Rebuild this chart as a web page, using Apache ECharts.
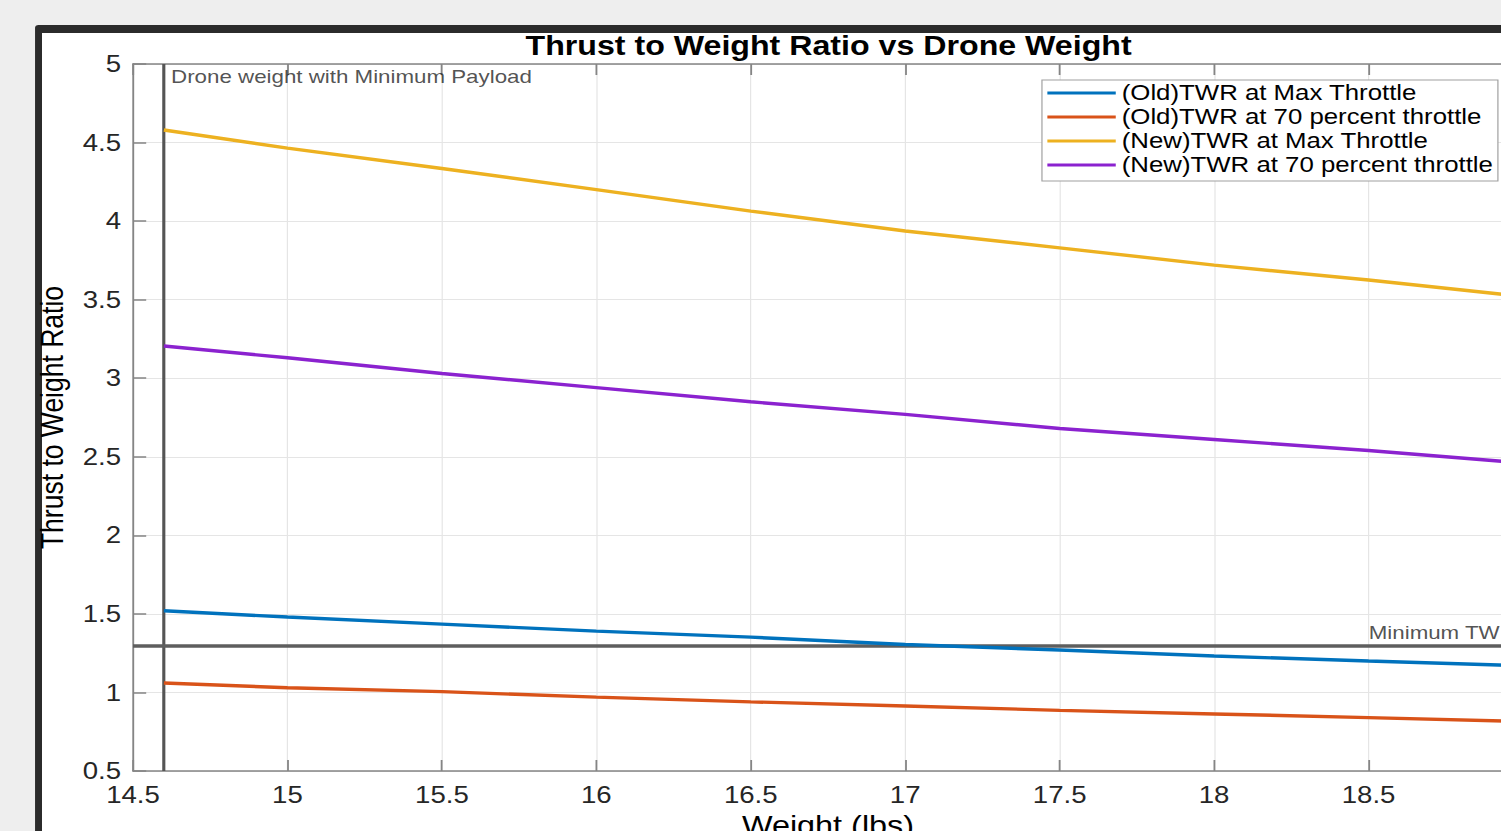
<!DOCTYPE html>
<html>
<head>
<meta charset="utf-8">
<script src="https://cdn.jsdelivr.net/npm/echarts@6/dist/echarts.min.js"></script>
<style>
  html, body { margin: 0; padding: 0; overflow: hidden; background: #eeeeee; width: 1501px; height: 831px; }
  #c { position: absolute; left: 0; top: 0; width: 1300px; height: 900px; transform: scaleX(1.2); transform-origin: 0 0; }
</style>
</head>
<body>
<div id="c"></div>
<script>
// ---- data ----
const weights = [14.6, 15, 15.5, 16, 16.5, 17, 17.5, 18, 18.5, 19];
const oldMax   = [1.52, 1.48, 1.435, 1.39, 1.352, 1.305, 1.27, 1.232, 1.20, 1.17];
const old70    = [1.06, 1.03, 1.005, 0.97, 0.94, 0.914, 0.886, 0.863, 0.84, 0.815];
const newMax   = [4.58, 4.465, 4.335, 4.20, 4.064, 3.937, 3.83, 3.72, 3.625, 3.52];
const new70    = [3.205, 3.13, 3.03, 2.94, 2.85, 2.77, 2.68, 2.61, 2.54, 2.46];
const seriesNames = ['(Old)TWR at Max Throttle', '(Old)TWR at 70 percent throttle', '(New)TWR at Max Throttle', '(New)TWR at 70 percent throttle'];
const seriesColors = ['#0072BD', '#D95319', '#EDB120', '#8B22CF'];
const refWeight = 14.6;   // minimum payload drone weight
const refTWR = 1.3;       // minimum TWR
const refWeightLabel = 'Drone weight with Minimum Payload';
const refTWRLabel = 'Minimum TWR';
const xMin = 14.5, xMax = 19, xStep = 0.5;
const yMin = 0.5, yMax = 5, yStep = 0.5;

const FONT = "'Liberation Sans', Arial, Helvetica, sans-serif";
const chart = echarts.init(document.getElementById('c'), null, { renderer: 'svg' });

function pairs(vals) { return weights.map((w, i) => [w, vals[i]]); }
const allVals = [oldMax, old70, newMax, new70];

const series = allVals.map((vals, i) => ({
  name: seriesNames[i],
  type: 'line',
  data: pairs(vals),
  showSymbol: false,
  symbol: 'none',
  lineStyle: { width: 3.4, color: seriesColors[i] },
  itemStyle: { color: seriesColors[i] },
  z: 3
}));

series[0].markLine = {
  silent: true,
  symbol: 'none',
  label: { show: false },
  data: [
    { xAxis: refWeight, lineStyle: { color: '#555555', width: 2.6, type: 'solid' } },
    { yAxis: refTWR, lineStyle: { color: '#5e5e5e', width: 3.5, type: 'solid' } }
  ],
  z: 2
};

series.push({
  type: 'scatter',
  name: 'labels',
  symbolSize: 0,
  silent: true,
  data: [
    { value: [refWeight, yMax], label: { show: true, formatter: refWeightLabel, position: [6, 3], align: 'left', verticalAlign: 'top' } },
    { value: [xMax, refTWR], label: { show: true, formatter: refTWRLabel, position: [-6, -4], align: 'right', verticalAlign: 'bottom' } }
  ],
  label: { fontFamily: FONT, fontSize: 18.6, color: '#262626' },
  z: 5
});

const axisLineStyle = { color: '#858585', width: 1.5 };

const option = {
  backgroundColor: '#eeeeee',
  animation: false,
  graphic: [
    { type: 'rect', left: 29.2, top: 25, shape: { width: 2000, height: 2000, r: 3 }, style: { fill: '#2b2b2b' }, z: -10 },
    { type: 'rect', left: 35, top: 33, shape: { width: 2000, height: 2000 }, style: { fill: '#ffffff' }, z: -9 }
  ],
  title: {
    text: 'Thrust to Weight Ratio vs Drone Weight',
    left: 685.5,
    top: 27,
    textAlign: 'center',
    textStyle: { fontFamily: FONT, fontSize: 26.8, fontWeight: 'bold', color: '#000000' }
  },
  legend: {
    data: seriesNames,
    orient: 'vertical',
    left: 868.3,
    top: 80,
    padding: [1, 4, 4, 4.5],
    itemGap: 0,
    itemWidth: 57,
    itemHeight: 3,
    icon: 'rect',
    backgroundColor: '#ffffff',
    borderColor: '#a0a0a0',
    borderWidth: 1,
    borderRadius: 0,
    textStyle: { fontFamily: FONT, fontSize: 21.5, color: '#000000', lineHeight: 24 }
  },
  grid: { left: 110.83, top: 64, width: 1158.33, height: 707, containLabel: false },
  xAxis: [
    {
      type: 'value', min: xMin, max: xMax, interval: xStep,
      name: 'Weight (lbs)', nameLocation: 'middle', nameGap: 41,
      nameTextStyle: { fontFamily: FONT, fontSize: 27, color: '#000000' },
      axisLine: { show: true, onZero: false, lineStyle: axisLineStyle },
      axisTick: { show: true, inside: true, length: 11, lineStyle: axisLineStyle },
      axisLabel: { fontFamily: FONT, fontSize: 23, color: '#262626', margin: 12 },
      splitLine: { show: true, lineStyle: { color: '#e5e5e5', width: 1 } }
    },
    {
      type: 'value', min: xMin, max: xMax, interval: xStep, position: 'top',
      axisLine: { show: true, onZero: false, lineStyle: axisLineStyle },
      axisTick: { show: true, inside: true, length: 11, lineStyle: axisLineStyle },
      axisLabel: { show: false },
      splitLine: { show: false }
    }
  ],
  yAxis: {
    type: 'value', min: yMin, max: yMax, interval: yStep,
    name: 'Thrust to Weight Ratio', nameLocation: 'middle', nameGap: 54,
    nameTextStyle: { fontFamily: FONT, fontSize: 26.5, color: '#000000' },
    axisLine: { show: true, onZero: false, lineStyle: axisLineStyle },
    axisTick: { show: true, inside: true, length: 11, lineStyle: axisLineStyle },
    axisLabel: { fontFamily: FONT, fontSize: 23, color: '#262626', margin: 10 },
    splitLine: { show: true, lineStyle: { color: '#e5e5e5', width: 1 } }
  },
  series: series
};
chart.setOption(option);
</script>
</body>
</html>
